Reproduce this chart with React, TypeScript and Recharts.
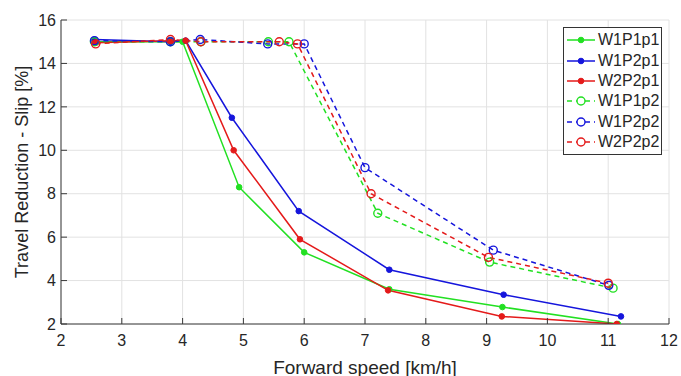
import React from 'react';
import { LineChart, Line, XAxis, YAxis, CartesianGrid, Legend } from 'recharts';

const xTicks = [2, 3, 4, 5, 6, 7, 8, 9, 10, 11, 12];
const yTicks = [2, 4, 6, 8, 10, 12, 14, 16];

const w1p1p1X = [2.55, 3.8, 4.0, 4.93, 6.0, 7.4, 9.26, 11.16];
const w1p1p1Y = [15.0, 15.0, 15.0, 8.3, 5.3, 3.6, 2.78, 2.0];
const w1p2p1X = [2.55, 3.8, 4.05, 4.81, 5.91, 7.4, 9.28, 11.21];
const w1p2p1Y = [15.1, 15.0, 15.05, 11.5, 7.2, 4.5, 3.35, 2.35];
const w2p2p1X = [2.57, 3.8, 4.05, 4.84, 5.93, 7.38, 9.25, 11.14];
const w2p2p1Y = [14.95, 15.05, 15.05, 10.0, 5.9, 3.55, 2.35, 2.0];

const w1p1p2X = [2.55, 3.8, 4.3, 5.41, 5.75, 7.21, 9.05, 11.08];
const w1p1p2Y = [15.0, 15.0, 15.0, 15.0, 15.0, 7.1, 4.85, 3.65];
const w1p2p2X = [2.55, 3.8, 4.29, 5.4, 6.0, 7.0, 9.11, 11.01];
const w1p2p2Y = [15.05, 15.0, 15.1, 14.9, 14.9, 9.2, 5.4, 3.78];
const w2p2p2X = [2.57, 3.8, 4.3, 5.59, 5.89, 7.1, 9.03, 11.0];
const w2p2p2Y = [14.9, 15.1, 15.0, 15.0, 14.9, 8.0, 5.07, 3.88];

const GREEN = '#22e022';
const BLUE = '#1515dc';
const RED = '#e41a1a';

const zip = (xs: number[], ys: number[]) => xs.map((x, i) => ({ x, y: ys[i] }));

const series = [
  { name: 'W1P1p1', data: zip(w1p1p1X, w1p1p1Y), color: GREEN, dashed: false },
  { name: 'W1P2p1', data: zip(w1p2p1X, w1p2p1Y), color: BLUE, dashed: false },
  { name: 'W2P2p1', data: zip(w2p2p1X, w2p2p1Y), color: RED, dashed: false },
  { name: 'W1P1p2', data: zip(w1p1p2X, w1p1p2Y), color: GREEN, dashed: true },
  { name: 'W1P2p2', data: zip(w1p2p2X, w1p2p2Y), color: BLUE, dashed: true },
  { name: 'W2P2p2', data: zip(w2p2p2X, w2p2p2Y), color: RED, dashed: true },
];

const FONT = '"Liberation Sans", Arial, Helvetica, sans-serif';
const AXIS = '#3a3a3a';

const LegendBox = () => (
  <div
    style={{
      border: '1px solid #333',
      background: '#fff',
      width: 97,
      padding: '2px 0 2px 0',
      fontFamily: FONT,
      fontSize: 16,
      color: '#262626',
    }}
  >
    {series.map((s) => (
      <div key={s.name} style={{ display: 'flex', alignItems: 'center', height: 20.4 }}>
        <svg width={34} height={20} style={{ display: 'block' }}>
          <line
            x1={3}
            x2={31}
            y1={10}
            y2={10}
            stroke={s.color}
            strokeWidth={1.5}
            strokeDasharray={s.dashed ? '5 4' : undefined}
          />
          {s.dashed ? (
            <circle cx={17} cy={10} r={4} fill="#fff" stroke={s.color} strokeWidth={1.4} />
          ) : (
            <circle cx={17} cy={10} r={2.8} fill={s.color} stroke={s.color} />
          )}
        </svg>
        <span style={{ lineHeight: '20px' }}>{s.name}</span>
      </div>
    ))}
  </div>
);

export default function App() {
  return (
    <div style={{ position: 'absolute', left: 0, top: 0, background: '#fff' }}>
      <LineChart width={681} height={376} margin={{ top: 20, right: 12, bottom: 0, left: 0 }}>
        <CartesianGrid stroke="#e2e2e2" strokeWidth={1} />
        <XAxis
          dataKey="x"
          type="number"
          domain={[2, 12]}
          ticks={xTicks}
          allowDataOverflow
          stroke={AXIS}
          tickSize={-6}
          tickMargin={17}
          tick={{ fill: '#262626', fontSize: 16, fontFamily: FONT }}
          height={52}
          label={{
            value: 'Forward speed [km/h]',
            position: 'insideBottom',
            offset: 2,
            fill: '#262626',
            fontSize: 19,
            fontFamily: FONT,
          }}
        />
        <XAxis
          xAxisId="top"
          orientation="top"
          type="number"
          domain={[2, 12]}
          ticks={xTicks}
          allowDataOverflow
          stroke={AXIS}
          tickSize={-6}
          tick={false}
          height={0}
        />
        <YAxis
          type="number"
          domain={[2, 16]}
          ticks={yTicks}
          allowDataOverflow
          stroke={AXIS}
          width={61}
          tickSize={-6}
          tickMargin={11}
          tick={{ fill: '#262626', fontSize: 16, fontFamily: FONT }}
          label={{
            value: 'Travel Reduction - Slip [%]',
            angle: -90,
            position: 'insideLeft',
            offset: 22,
            style: { textAnchor: 'middle' },
            fill: '#262626',
            fontSize: 18,
            fontFamily: FONT,
          }}
        />
        <YAxis
          yAxisId="right"
          orientation="right"
          type="number"
          domain={[2, 16]}
          ticks={yTicks}
          allowDataOverflow
          stroke={AXIS}
          width={0}
          tickSize={-6}
          tick={false}
        />
        <Legend
          layout="horizontal"
          verticalAlign="middle"
          align="center"
          content={() => <LegendBox />}
          wrapperStyle={{ position: 'absolute', left: 563, top: 27, width: 'auto', height: 'auto' }}
        />
        {series.map((s) => (
          <Line
            key={s.name}
            name={s.name}
            data={s.data}
            dataKey="y"
            type="linear"
            stroke={s.color}
            strokeWidth={1.5}
            strokeDasharray={s.dashed ? '5 4' : undefined}
            dot={
              s.dashed
                ? { r: 4, fill: 'none', stroke: s.color, strokeWidth: 1.4, strokeDasharray: '' }
                : { r: 2.8, fill: s.color, stroke: s.color, strokeWidth: 1 }
            }
            activeDot={false}
            isAnimationActive={false}
          />
        ))}
      </LineChart>
    </div>
  );
}
